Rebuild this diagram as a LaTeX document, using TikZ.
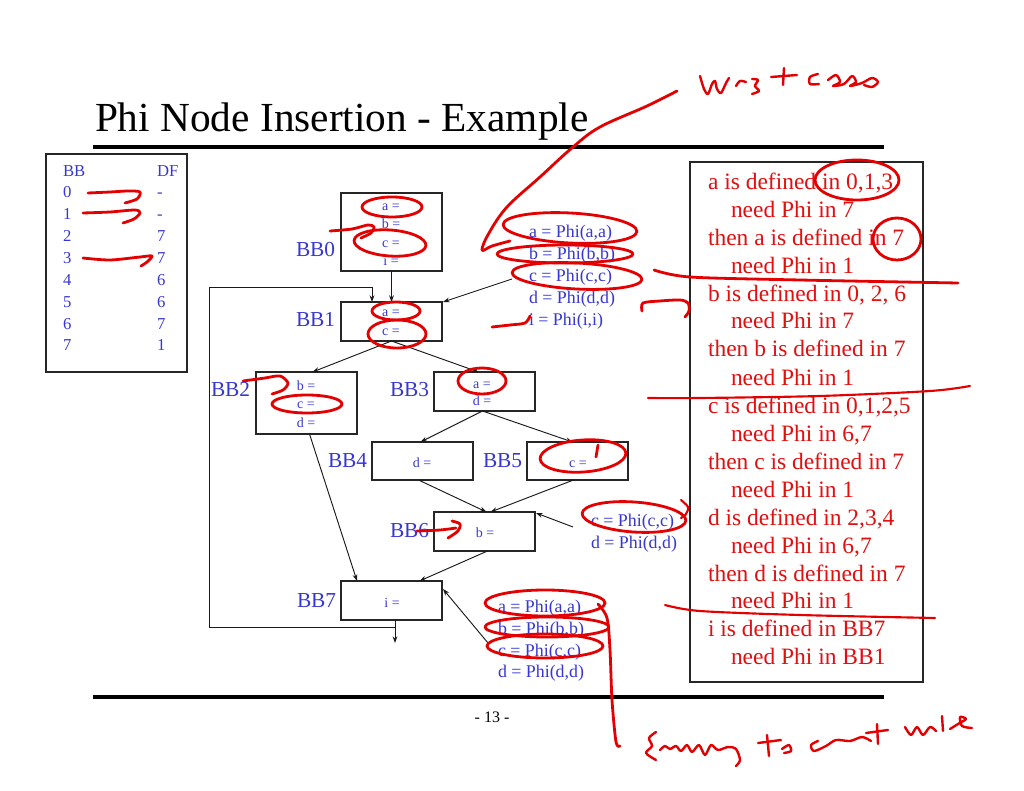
\documentclass[tikz,border=0pt]{standalone}
\usepackage{fontspec}
\setmainfont{Liberation Serif}
\usetikzlibrary{arrows.meta,calc}
\definecolor{txtblue}{RGB}{55,55,210}
\definecolor{txtred}{RGB}{225,15,15}
\definecolor{ink}{RGB}{228,0,0}
\begin{document}
\begin{tikzpicture}[x=0.75pt,y=-0.75pt,
  every node/.style={inner sep=0pt, outer sep=0pt},
  bbox/.style={draw=black!85, line width=0.9pt, minimum width=75.75pt, minimum height=29.25pt},
  btxt/.style={anchor=base, text=txtblue, font=\fontsize{10.5}{12}\selectfont},
  blab/.style={anchor=base west, text=txtblue, font=\fontsize{16}{18}\selectfont},
  ttxt/.style={anchor=base west, text=txtblue, font=\fontsize{12.5}{14}\selectfont},
  ptxt/.style={anchor=base west, text=txtblue, font=\fontsize{13.4}{15}\selectfont},
  rtxt/.style={anchor=base west, text=txtred, font=\fontsize{17.6}{20}\selectfont},
  arr/.style={-{Stealth[length=5pt,width=3.6pt]}, line width=0.7pt, draw=black!90},
  ink/.style={draw=ink, line width=2.1pt, line cap=round, line join=round}]
\path[use as bounding box, fill=white] (0,0) rectangle (1024,791);

% title and rules
\node[anchor=base west, font=\fontsize{31}{37}\selectfont] (title) at (95,132) {Phi Node Insertion - Example};
\draw[line width=3pt] (93,147) -- (884,147);
\draw[line width=3.6pt] (93,697) -- (884,697);
\node[anchor=base, font=\fontsize{12}{14}\selectfont] (pg) at (492,722) {- 13 -};

% dominance frontier table
\draw[line width=0.9pt, draw=black!85] (46,154) rectangle (187,372);
\node[ttxt] (thbb) at (63,177) {BB};
\node[ttxt] (thdf) at (157,177) {DF};
\node[ttxt] (tr0) at (63,198) {0}; \node[ttxt] (td0) at (157,198) {-};
\node[ttxt] (tr1) at (63,220) {1}; \node[ttxt] (td1) at (157,220) {-};
\node[ttxt] (tr2) at (63,242) {2}; \node[ttxt] (td2) at (157,242) {7};
\node[ttxt] (tr3) at (63,264) {3}; \node[ttxt] (td3) at (157,264) {7};
\node[ttxt] (tr4) at (63,286) {4}; \node[ttxt] (td4) at (157,286) {6};
\node[ttxt] (tr5) at (63,308) {5}; \node[ttxt] (td5) at (157,308) {6};
\node[ttxt] (tr6) at (63,330) {6}; \node[ttxt] (td6) at (157,330) {7};
\node[ttxt] (tr7) at (63,351) {7}; \node[ttxt] (td7) at (157,351) {1};

% basic blocks
\node[bbox, minimum height=58.5pt] (bb0) at (391.5,232) {};
\node[bbox] (bb1) at (391.5,321.5) {};
\node[bbox, minimum height=46.5pt] (bb2) at (306.5,403) {};
\node[bbox] (bb3) at (484.5,391.5) {};
\node[bbox, minimum height=28.5pt] (bb4) at (422.5,461) {};
\node[bbox, minimum height=28.5pt] (bb5) at (577.5,461) {};
\node[bbox] (bb6) at (484.5,531.5) {};
\node[bbox] (bb7) at (391.5,600.5) {};

\node[btxt] (b0a) at (391,211) {a =};
\node[btxt] (b0b) at (391,229) {b =};
\node[btxt] (b0c) at (391,248) {c =};
\node[btxt] (b0i) at (391,266) {i =};
\node[btxt] (b1a) at (391,317) {a =};
\node[btxt] (b1c) at (391,336) {c =};
\node[btxt] (b2b) at (306,390) {b =};
\node[btxt] (b2c) at (306,408) {c =};
\node[btxt] (b2d) at (306,427) {d =};
\node[btxt] (b3a) at (482,388) {a =};
\node[btxt] (b3d) at (482,406) {d =};
\node[btxt] (b4d) at (422,467) {d =};
\node[btxt] (b5c) at (578,467) {c =};
\node[btxt] (b6b) at (485,537) {b =};
\node[btxt] (b7i) at (392,607) {i =};

\node[blab] (l0) at (296,257) {BB0};
\node[blab] (l1) at (296,327) {BB1};
\node[blab] (l2) at (211,397) {BB2};
\node[blab] (l3) at (390,397) {BB3};
\node[blab] (l4) at (328,467) {BB4};
\node[blab] (l5) at (483,467) {BB5};
\node[blab] (l6) at (390,537) {BB6};
\node[blab] (l7) at (297,607) {BB7};

% phi functions
\node[ptxt] (pa1) at (529,238) {a = Phi(a,a)};
\node[ptxt] (pa2) at (529,260) {b = Phi(b,b)};
\node[ptxt] (pa3) at (529,282) {c = Phi(c,c)};
\node[ptxt] (pa4) at (529,304) {d = Phi(d,d)};
\node[ptxt] (pa5) at (529,326) {i = Phi(i,i)};
\node[ptxt] (pb1) at (591,526) {c = Phi(c,c)};
\node[ptxt] (pb2) at (591,548) {d = Phi(d,d)};
\node[ptxt] (pc1) at (498,612) {a = Phi(a,a)};
\node[ptxt] (pc2) at (498,634) {b = Phi(b,b)};
\node[ptxt] (pc3) at (498,656) {c = Phi(c,c)};
\node[ptxt] (pc4) at (498,677) {d = Phi(d,d)};

% edges
\draw[arr] (bb0.south) -- (bb1.north);
\draw[arr] (bb1.south) -- ($(bb2.north)+(6,0)$);
\draw[arr] (bb1.south) -- ($(bb3.north)+(-6,0)$);
\draw[arr] ($(bb3.south)+(-2,0)$) -- ($(bb4.north)+(-2,0)$);
\draw[arr] ($(bb3.south)+(-2,0)$) -- ($(bb5.north)+(-5,0)$);
\draw[arr] ($(bb4.south)+(-4,0)$) -- ($(bb6.north)+(2,0)$);
\draw[arr] ($(bb5.south)+(-4,0)$) -- ($(bb6.north)+(6,0)$);
\draw[arr] ($(bb6.south)+(3,0)$) -- ($(bb7.north)+(28,0)$);
\draw[arr] ($(bb2.south)+(3,0)$) -- ($(bb7.north west)+(16,0)$);
\coordinate (exit) at (395,643);
\draw[arr] ($(bb7.south)+(3.5,0)$) -- (exit);
\coordinate (lpA) at (395,627);
\coordinate (lpB) at (209,627);
\coordinate (lpC) at (209,287);
\coordinate (lpD) at (372,287);
\draw[arr] (lpA) -- (lpB) -- (lpC) -- (lpD) -- ($(bb1.north west)+(31,0)$);
\coordinate (srcA) at (512,279);
\draw[arr] (srcA) -- ($(bb1.north east)+(1,0)$);
\coordinate (srcB) at (573,527);
\draw[arr] (srcB) -- ($(bb6.north east)+(1,1)$);
\coordinate (srcC) at (488,643);
\draw[arr] (srcC) -- ($(bb7.north east)+(1,8)$);

% explanation box
\draw[line width=0.9pt, draw=black!85] (690,162) rectangle (923,682);
\node[rtxt] (r1) at (708,190) {a is defined in 0,1,3};
\node[rtxt] (r2) at (731,218) {need Phi in 7};
\node[rtxt] (r3) at (708,246) {then a is defined in 7};
\node[rtxt] (r4) at (731,274) {need Phi in 1};
\node[rtxt] (r5) at (708,302) {b is defined in 0, 2, 6};
\node[rtxt] (r6) at (731,329) {need Phi in 7};
\node[rtxt] (r7) at (708,357) {then b is defined in 7};
\node[rtxt] (r8) at (731,385) {need Phi in 1};
\node[rtxt] (r9) at (708,413) {c is defined in 0,1,2,5};
\node[rtxt] (r10) at (731,441) {need Phi in 6,7};
\node[rtxt] (r11) at (708,469) {then c is defined in 7};
\node[rtxt] (r12) at (731,497) {need Phi in 1};
\node[rtxt] (r13) at (708,525) {d is defined in 2,3,4};
\node[rtxt] (r14) at (731,553) {need Phi in 6,7};
\node[rtxt] (r15) at (708,581) {then d is defined in 7};
\node[rtxt] (r16) at (731,608) {need Phi in 1};
\node[rtxt] (r17) at (708,636) {i is defined in BB7};
\node[rtxt] (r18) at (731,664) {need Phi in BB1};

% ---------- handwritten ink ----------
% big sweep from "worst case"
\draw[ink] plot[smooth, tension=0.6] coordinates {(677,91) (647,106) (600,127) (573,147) (540,177) (507,207) (489,233) (482,250) (492,246) (510,241)};
% worst case
\draw[ink, line width=1.8pt] plot[smooth] coordinates {(700,76) (704,89) (708,94) (712,84) (715,81) (717,89) (721,93) (726,83) (729,78)};
\draw[ink, line width=1.8pt] plot[smooth] coordinates {(736,86) (740,81) (746,82)};
\draw[ink, line width=1.8pt] plot[smooth] coordinates {(752,79) (758,80) (755,86) (759,91) (752,94)};
\draw[ink, line width=1.8pt] (784,68) -- (783,85);
\draw[ink, line width=1.8pt] (771,77) -- (797,75);
\draw[ink, line width=1.8pt] plot[smooth] coordinates {(818,74) (810,77) (810,84) (819,84)};
\draw[ink, line width=1.8pt] plot[smooth] coordinates {(828,80) (836,75) (840,82) (833,86) (844,84) (852,76) (856,82) (850,86) (862,83) (872,78) (878,82) (872,87) (864,85)};

% BB0 / BB1 marks
\draw[ink] (392,207) ellipse [x radius=22.5pt, y radius=7.5pt];
\draw[ink, rotate around={-4:(390,243)}] (390,243) ellipse [x radius=27pt, y radius=9.75pt];
\draw[ink] plot[smooth] coordinates {(330,231) (352,229) (368,225) (374,227) (371,233) (361,238)};
\draw[ink] (396,311) ellipse [x radius=18pt, y radius=6.75pt];
\draw[ink] (397,334) ellipse [x radius=21.75pt, y radius=10.5pt];
% BB2
\draw[ink] (307,404) ellipse [x radius=26.25pt, y radius=6.75pt];
\draw[ink] plot[smooth] coordinates {(243,381) (265,378) (280,376) (288,383) (283,390) (272,394)};
% BB3
\draw[ink] (482,381) ellipse [x radius=18pt, y radius=9.75pt];
% BB5
\draw[ink, rotate around={4:(583,456)}] (583,456) ellipse [x radius=32.25pt, y radius=12pt];
\draw[ink] (598,445) -- (596,457);
% BB6
\draw[ink] plot[smooth] coordinates {(417,531) (440,530) (456,528)};
\draw[ink] plot[smooth] coordinates {(452,521) (460,524) (458,531) (448,538)};
% phi at BB1
\draw[ink, rotate around={-3:(570,228)}] (570,228) ellipse [x radius=50.25pt, y radius=11.25pt];
\draw[ink] (565,254) ellipse [x radius=51pt, y radius=6.75pt];
\draw[ink, rotate around={-3:(577,276)}] (577,276) ellipse [x radius=48.75pt, y radius=9.75pt];
\draw[ink] plot[smooth] coordinates {(492,327) (510,325) (525,323) (530,316)};
\draw[ink] plot[smooth] coordinates {(642,311) (643,303) (660,301) (680,300) (688,303) (689,311) (685,317)};
% phi at BB6
\draw[ink, rotate around={-4:(634,517)}] (634,517) ellipse [x radius=39pt, y radius=11.25pt];
% phi at BB7
\draw[ink] (545,603) ellipse [x radius=45pt, y radius=9.75pt];
\draw[ink] (547,627) ellipse [x radius=46.5pt, y radius=7.5pt];
\draw[ink] (545,646) ellipse [x radius=43.5pt, y radius=9pt];
\draw[ink] plot[smooth] coordinates {(598,604) (607,618) (610,650) (612,700) (616,742) (620,746)};
% table marks
\draw[ink] plot[smooth] coordinates {(88,193) (110,192) (128,191) (140,192) (137,199) (125,203)};
\draw[ink] plot[smooth] coordinates {(83,213) (110,212) (135,210) (140,213) (134,219) (123,223)};
\draw[ink] plot[smooth] coordinates {(83,258) (110,260) (140,257) (152,256) (147,262) (141,266)};
% right box marks
\draw[ink] (857,180) ellipse [x radius=31.5pt, y radius=15pt];
\draw[ink] (897,239) ellipse [x radius=18pt, y radius=15.75pt];
\draw[ink] plot[smooth] coordinates {(654,270) (690,277) (800,280) (958,283)};
\draw[ink, line width=1.6pt] plot[smooth] coordinates {(648,398) (700,398) (820,396) (930,391) (970,386)};
\draw[ink, line width=1.6pt] plot[smooth] coordinates {(665,605) (700,611) (800,615) (935,618)};
\draw[ink, line width=1.6pt] plot[smooth] coordinates {(681,500) (688,507) (686,514) (681,518)};
% bottom handwriting
\draw[ink, line width=1.8pt] plot[smooth] coordinates {(656,732) (649,738) (652,746) (646,753) (656,760)};
\draw[ink, line width=1.8pt] plot[smooth] coordinates {(660,750) (665,746) (670,749) (676,746) (681,751) (687,745) (692,752) (699,745) (705,755) (711,745) (718,750) (728,747) (736,749) (740,760) (736,766)};
\draw[ink, line width=1.8pt] (767,735) -- (769,756);
\draw[ink, line width=1.8pt] (758,743) -- (781,740);
\draw[ink, line width=1.8pt] plot[smooth] coordinates {(782,749) (789,745) (791,751) (784,753)};
\draw[ink, line width=1.8pt] plot[smooth] coordinates {(818,741) (811,745) (814,751) (826,746) (836,740) (850,741) (862,737) (871,741)};
\draw[ink, line width=1.8pt] (877,724) -- (878,744);
\draw[ink, line width=1.8pt] (866,733) -- (888,730);
\draw[ink, line width=1.8pt] plot[smooth] coordinates {(905,727) (911,735) (917,727) (923,735) (930,727) (936,731)};
\draw[ink, line width=1.8pt] (942,716) -- (943,731);
\draw[ink, line width=1.8pt] plot[smooth] coordinates {(950,729) (958,724) (966,719) (960,717) (962,726) (972,728)};
\end{tikzpicture}
\end{document}
